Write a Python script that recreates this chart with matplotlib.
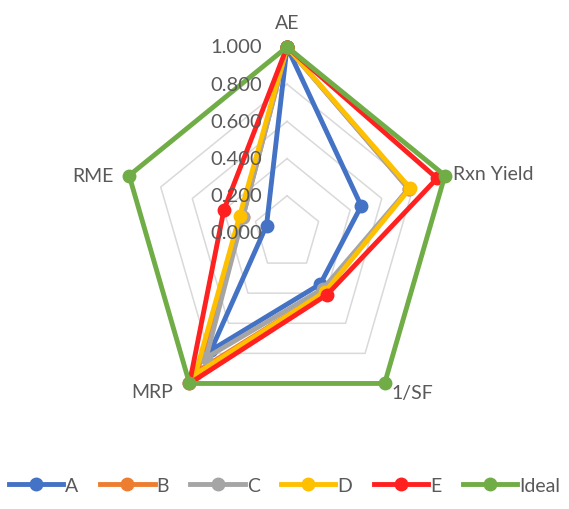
import matplotlib.pyplot as plt
import matplotlib.transforms as mtrans
import numpy as np

categories = ["AE", "Rxn Yield", "1/SF", "MRP", "RME"]
series_names = ["A", "B", "C", "D", "E", "Ideal"]
A = [1.00, 0.47, 0.34, 0.78, 0.13]
B = [1.00, 0.77, 0.39, 0.92, 0.28]
C = [1.00, 0.77, 0.37, 0.83, 0.28]
D = [1.00, 0.78, 0.39, 0.94, 0.30]
E = [1.00, 0.95, 0.41, 1.00, 0.40]
Ideal = [1.0, 1.0, 1.0, 1.0, 1.0]
ticks = [0.0, 0.2, 0.4, 0.6, 0.8, 1.0]

colors = ["#4472C4", "#ED7D31", "#A5A5A5", "#FFC000", "#FF2020", "#70AD47"]
txt = "#595959"
plt.rcParams['font.family'] = ['Lato', 'DejaVu Sans']

fig = plt.figure(figsize=(5.69, 5.10), dpi=100)
ax = fig.add_axes([0.2127, 0.1765, 0.5835, 0.7294], projection="polar")
ax.set_aspect("auto")
ax.set_theta_offset(np.pi / 2)
ax.set_theta_direction(-1)

n = len(categories)
theta = np.arange(n) * 2 * np.pi / n
theta_c = np.append(theta, theta[0])

# pentagon gridlines
for r in ticks[1:]:
    ax.plot(theta_c, [r] * (n + 1), color="#D9D9D9", lw=1.1, zorder=1, clip_on=False)

for name, vals, c in zip(series_names, [A, B, C, D, E, Ideal], colors):
    v = list(vals) + [vals[0]]
    ax.plot(theta_c, v, color=c, lw=3.5, marker="o", ms=9, label=name,
            clip_on=False, zorder=3, solid_joinstyle="miter")

ax.set_ylim(0, 1)
ax.grid(False)
ax.spines["polar"].set_visible(False)
ax.set_xticks([])
ax.set_yticks([])
ax.patch.set_alpha(0)

# radial value labels
off = mtrans.offset_copy(ax.transData, fig=fig, x=-25, y=0, units="dots")
for r in ticks:
    ax.text(0, r, f"{r:.3f}", transform=off, ha="right", va="center",
            fontsize=14.5, color=txt)

# category labels
label_offsets = [(0, 16, "center", "bottom"), (8, 2, "left", "center"),
                 (7, -9, "left", "center"), (-16, -8, "right", "center"),
                 (-16, 0, "right", "center")]
for th, lab, (dx, dy, ha, va) in zip(theta, categories, label_offsets):
    t = mtrans.offset_copy(ax.transData, fig=fig, x=dx, y=dy, units="dots")
    ax.text(th, 1.0, lab, transform=t, ha=ha, va=va, fontsize=14, color=txt)

fig.legend(loc="lower center", bbox_to_anchor=(0.5, -0.005), ncol=6,
           frameon=False, fontsize=14, handlelength=2.8, columnspacing=1.1,
           handletextpad=0.1, labelcolor=txt)

fig.savefig("out.png", dpi=100)
